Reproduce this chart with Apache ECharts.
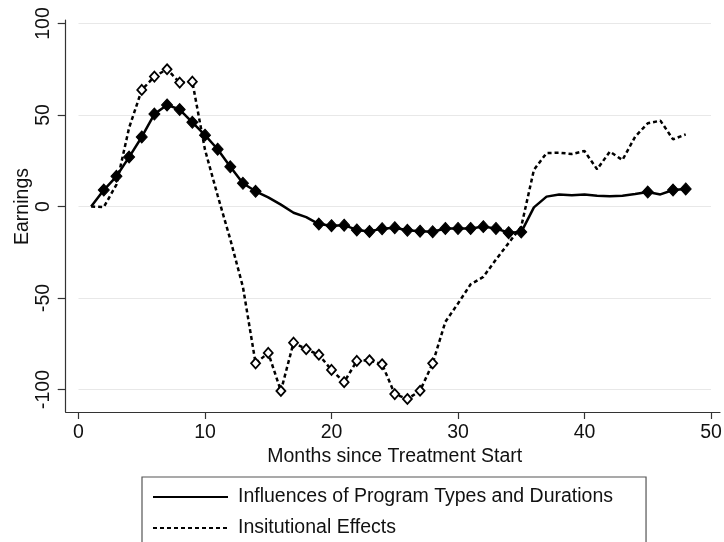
<!DOCTYPE html>
<html>
<head>
<meta charset="utf-8">
<script src="https://cdn.jsdelivr.net/npm/echarts@6/dist/echarts.min.js"></script>
<style>
  html, body { margin: 0; padding: 0; background: #fff; }
  #chart { width: 724px; height: 542px; }
</style>
</head>
<body>
<div id="chart"></div>
<script>
// Months since treatment start (1..48)
const months = [1,2,3,4,5,6,7,8,9,10,11,12,13,14,15,16,17,18,19,20,21,22,23,24,
                25,26,27,28,29,30,31,32,33,34,35,36,37,38,39,40,41,42,43,44,45,46,47,48];

// Earnings effect: influences of program types and durations
const programEffect = [0, 9, 16.5, 27, 38, 50.5, 55.5, 53, 46, 39, 31.3, 21.7, 12.7, 8.3,
                       5, 1, -3.4, -5.8, -9.6, -10.5, -10.2, -12.8, -13.6, -12.1, -11.6, -13,
                       -13.5, -13.8, -12, -12, -12, -11, -12, -14.3, -14, -0.5, 5.4, 6.5,
                       6.1, 6.5, 5.9, 5.6, 5.9, 6.8, 7.9, 6.6, 9, 9.6];
// Months where the program estimate carries a marker
const programMarked = [2,3,4,5,6,7,8,9,10,11,12,13,14,19,20,21,22,23,24,25,26,27,28,
                       29,30,31,32,33,34,35,45,47,48];

// Earnings effect: institutional effects
const institutionalEffect = [0, -0.3, 12, 43, 63.7, 71, 75, 67.7, 68.2, 31, 6, -18, -44, -85.7,
                             -80, -100.8, -74.4, -78, -81, -89.3, -96, -84.4, -84, -86.2, -102.5,
                             -105.2, -100.7, -85.7, -63, -53, -42.5, -38.5, -29, -20, -11, 20,
                             29.2, 29.4, 28.7, 30.3, 20.3, 30, 25.4, 38.1, 45.5, 46.9, 36.7, 39.4];
const institutionalMarked = [5,6,7,8,9,14,15,16,17,18,19,20,21,22,23,24,25,26,27,28];

const xTicks = [0, 10, 20, 30, 40, 50];
const yTicks = [-100, -50, 0, 50, 100];

const seriesNames = ['Influences of Program Types and Durations', 'Insitutional Effects'];

const FONT = 'Liberation Sans';
const FS = 19.5;

function buildPoints(values, marked, markStyle) {
  return months.map((m, i) => {
    const item = { value: [m, values[i]] };
    if (marked.indexOf(m) >= 0) {
      item.symbol = 'diamond';
      item.symbolSize = markStyle.size;
      item.itemStyle = markStyle.itemStyle;
    }
    return item;
  });
}

const chart = echarts.init(document.getElementById('chart'), null, { renderer: 'canvas' });

chart.setOption({
  animation: false,
  backgroundColor: '#ffffff',
  textStyle: { fontFamily: FONT },
  grid: [
    // data area
    { left: 78.5, right: 13, top: 23.5, bottom: 152.5, containLabel: false, outerBoundsMode: 'none' },
    // frame for the axis lines
    { left: 65.7, right: 4, top: 20, bottom: 130, containLabel: false, outerBoundsMode: 'none' }
  ],
  xAxis: [
    {
      type: 'value', gridIndex: 0,
      min: xTicks[0], max: xTicks[xTicks.length - 1], interval: 10,
      offset: 22.5,
      name: 'Months since Treatment Start',
      nameLocation: 'middle', nameGap: 35, nameMoveOverlap: false,
      nameTextStyle: { fontFamily: FONT, fontSize: FS, color: '#111' },
      axisLine: { show: false, onZero: false },
      axisTick: { show: true, length: 7, lineStyle: { color: '#333', width: 1.2 } },
      axisLabel: { fontFamily: FONT, fontSize: FS, color: '#111', margin: 11 },
      splitLine: { show: false }
    },
    {
      type: 'value', gridIndex: 1, min: 0, max: 1,
      axisLine: { show: true, onZero: false, lineStyle: { color: '#333', width: 1.2 } },
      axisTick: { show: false }, axisLabel: { show: false }, splitLine: { show: false }
    }
  ],
  yAxis: [
    {
      type: 'value', gridIndex: 0,
      min: yTicks[0], max: yTicks[yTicks.length - 1], interval: 50,
      offset: 12.8,
      name: 'Earnings',
      nameLocation: 'middle', nameGap: 33, nameRotate: 90, nameMoveOverlap: false,
      nameTextStyle: { fontFamily: FONT, fontSize: FS, color: '#111' },
      axisLine: { show: false, onZero: false },
      axisTick: { show: true, length: 8, lineStyle: { color: '#333', width: 1.2 } },
      axisLabel: { fontFamily: FONT, fontSize: FS, color: '#111', rotate: 90, margin: 12 },
      splitLine: { show: true, lineStyle: { color: '#e8e8e8', width: 1.2 } }
    },
    {
      type: 'value', gridIndex: 1, min: 0, max: 1,
      axisLine: { show: true, onZero: false, lineStyle: { color: '#333', width: 1.2 } },
      axisTick: { show: false }, axisLabel: { show: false }, splitLine: { show: false }
    }
  ],
  legend: {
    orient: 'vertical',
    left: 142, top: 477, height: 120,
    padding: [10, 33, 20, 10],
    itemGap: 11,
    itemWidth: 75, itemHeight: 18,
    borderColor: '#555', borderWidth: 1.2,
    backgroundColor: '#fff',
    itemStyle: { opacity: 0 },
    textStyle: { fontFamily: FONT, fontSize: FS, color: '#111', padding: [0, 0, 0, 5] },
    data: seriesNames
  },
  series: [
    {
      name: seriesNames[0],
      type: 'line', xAxisIndex: 0, yAxisIndex: 0,
      symbol: 'none', showSymbol: true, clip: false,
      lineStyle: { color: '#000', width: 2.5, type: 'solid' },
      itemStyle: { color: '#000' },
      data: buildPoints(programEffect, programMarked, {
        size: [11, 12],
        itemStyle: { color: '#000', borderColor: '#000', borderWidth: 1 }
      }),
      z: 3
    },
    {
      name: seriesNames[1],
      type: 'line', xAxisIndex: 0, yAxisIndex: 0,
      symbol: 'none', showSymbol: true, clip: false,
      lineStyle: { color: '#000', width: 2.5, type: [4, 3] },
      itemStyle: { color: '#000' },
      data: buildPoints(institutionalEffect, institutionalMarked, {
        size: [9, 10],
        itemStyle: { color: '#fff', borderColor: '#000', borderWidth: 1.8 }
      }),
      z: 4
    }
  ]
});
</script>
</body>
</html>
